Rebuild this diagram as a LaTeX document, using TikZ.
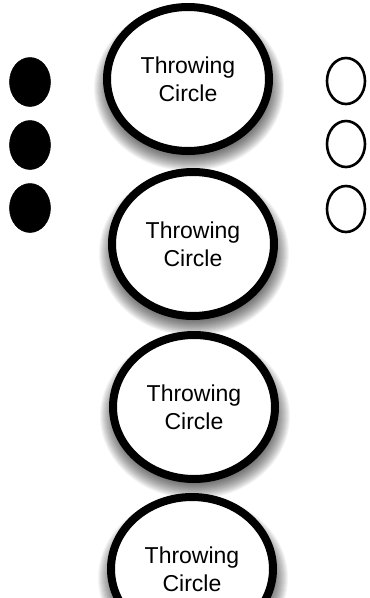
\documentclass[tikz,border=0pt]{standalone}
\usepackage{fontspec}
\setmainfont{Liberation Sans}
\usetikzlibrary{shapes.geometric}
% soft drop shadow: stacked translucent ellipses, pushed downwards
\newcommand\castshadow[2]{%
  \foreach \k in {0,...,15}{%
    \fill[black, opacity=0.042] ({#1+1},{#2+9})
      ellipse [x radius={(80+1.0*\k)*1pt}, y radius={(68+1.0*\k)*1pt}];
  }%
}
\begin{document}
\begin{tikzpicture}[x=1pt,y=-1pt,
  throw/.style={ellipse, draw=black, line width=8pt, fill=white,
    minimum width=162pt, minimum height=144pt, inner sep=0pt,
    align=center, font=\fontsize{23}{28}\selectfont},
  thrown/.style={ellipse, draw=black, fill=black, line width=0.5pt,
    minimum width=41pt, minimum height=49pt, inner sep=0pt},
  open/.style={ellipse, draw=black, fill=white, line width=2.6pt,
    minimum width=38pt, minimum height=46pt, inner sep=0pt}]
  \useasboundingbox[fill=white] (0,0) rectangle (370,598);

  % shadows under the throwing circles
  \castshadow{188}{79}
  \castshadow{193}{244}
  \castshadow{194}{407}
  \castshadow{192}{569}

  % throwing circles down the middle
  \node[throw] (c1) at (188,79)  {Throwing\\Circle};
  \node[throw] (c2) at (193,244) {Throwing\\Circle};
  \node[throw] (c3) at (194,407) {Throwing\\Circle};
  \node[throw] (c4) at (192,569) {Throwing\\Circle};

  % filled markers on the left
  \node[thrown] (f1) at (30,82)  {};
  \node[thrown] (f2) at (30,145) {};
  \node[thrown] (f3) at (30,208) {};

  % open markers on the right
  \node[open] (o1) at (346,81)  {};
  \node[open] (o2) at (346,144) {};
  \node[open] (o3) at (346,209) {};
\end{tikzpicture}
\end{document}
